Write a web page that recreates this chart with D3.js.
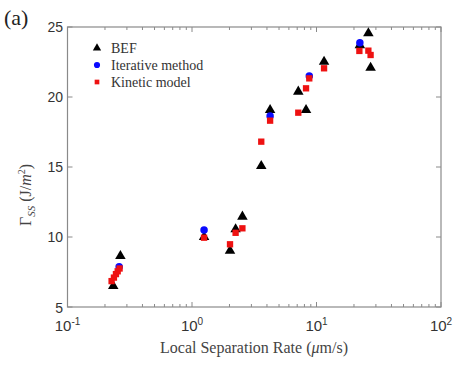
<!DOCTYPE html>
<html>
<head>
<meta charset="utf-8">
<script src="https://cdn.jsdelivr.net/npm/d3@7"></script>
<style>
html,body{margin:0;padding:0;background:#fff;}
svg{display:block;}
</style>
</head>
<body>
<svg id="chart" width="458" height="365"></svg>
<script>
// Data (x: local separation rate in um/s, y: Gamma_SS in J/m^2)
const befX = [0.233, 0.266, 1.25, 2.02, 2.24, 2.54, 3.6, 4.24, 7.14, 8.24, 11.5, 22.3, 26.1, 27.2];
const befY = [6.5, 8.64, 10.0, 9.02, 10.55, 11.45, 15.07, 19.07, 20.38, 19.07, 22.52, 23.7, 24.55, 22.09];
const iterX = [0.26, 1.25, 4.24, 8.75, 22.3];
const iterY = [7.88, 10.5, 18.64, 21.5, 23.88];
const kinX = [0.226, 0.236, 0.245, 0.253, 0.262, 1.25, 2.02, 2.24, 2.54, 3.6, 4.24, 7.14, 8.24, 8.75, 11.5, 22.1, 26.1, 27.2];
const kinY = [6.85, 7.1, 7.35, 7.55, 7.75, 9.95, 9.48, 10.3, 10.62, 16.81, 18.31, 18.88, 20.62, 21.33, 22.05, 23.29, 23.31, 23.0];
const yTicks = [5, 10, 15, 20, 25];
const xTickExps = [-1, 0, 1, 2];
const legendLabels = ["BEF", "Iterative method", "Kinetic model"];

const svg = d3.select("#chart");
const L = 67.5, R = 441, T = 27, B = 307;
const x = d3.scaleLog().domain([0.1, 100]).range([L, R]);
const y = d3.scaleLinear().domain([5, 25]).range([B, T]);
const axisColor = "#8a8a8a";

// frame
svg.append("rect").attr("x", L).attr("y", T).attr("width", R - L).attr("height", B - T)
  .attr("fill", "none").attr("stroke", axisColor).attr("stroke-width", 1.2);

// minor/major x ticks (inward, bottom and top)
const xt = [];
for (let e = -1; e < 2; e++) for (let m = 1; m < 10; m++) xt.push(m * Math.pow(10, e));
xt.push(100);
xt.forEach(v => {
  const major = Math.abs(Math.log10(v) - Math.round(Math.log10(v))) < 1e-9;
  const len = major ? 5 : 3;
  svg.append("line").attr("x1", x(v)).attr("x2", x(v)).attr("y1", B).attr("y2", B - len)
    .attr("stroke", axisColor).attr("stroke-width", 1);
  svg.append("line").attr("x1", x(v)).attr("x2", x(v)).attr("y1", T).attr("y2", T + len)
    .attr("stroke", axisColor).attr("stroke-width", 1);
});
yTicks.forEach(v => {
  svg.append("line").attr("x1", L).attr("x2", L + 5).attr("y1", y(v)).attr("y2", y(v))
    .attr("stroke", axisColor);
  svg.append("line").attr("x1", R).attr("x2", R - 5).attr("y1", y(v)).attr("y2", y(v))
    .attr("stroke", axisColor);
  svg.append("text").attr("x", 63).attr("y", y(v) + (v === 5 ? 1 : 0)).attr("dy", "0.34em")
    .attr("text-anchor", "end").attr("font-family", "Liberation Sans, Arial, sans-serif")
    .attr("font-size", 14).attr("fill", "#333").text(v);
});
xTickExps.forEach(e => {
  const t = svg.append("text").attr("x", x(Math.pow(10, e))).attr("y", 331)
    .attr("text-anchor", "middle").attr("font-family", "Liberation Sans, Arial, sans-serif")
    .attr("font-size", 15).attr("fill", "#333");
  t.append("tspan").text("10");
  t.append("tspan").attr("dy", -6).attr("font-size", 10).text(e);
});

// axis titles
svg.append("text").attr("x", 254).attr("y", 353).attr("text-anchor", "middle")
  .attr("font-family", "Liberation Serif, Times New Roman, serif").attr("font-size", 16)
  .attr("fill", "#444")
  .html('Local Separation Rate (<tspan font-style="italic">μ</tspan>m/s)');
const yt = svg.append("text").attr("transform", "translate(31,195) rotate(-90)")
  .attr("text-anchor", "middle").attr("font-family", "Liberation Serif, Times New Roman, serif")
  .attr("font-size", 16).attr("fill", "#444");
yt.append("tspan").text("Γ");
yt.append("tspan").attr("font-size", 11).attr("font-style", "italic").attr("dy", 4).text("SS");
yt.append("tspan").attr("dy", -4).text(" (J/");
yt.append("tspan").attr("font-style", "italic").text("m");
yt.append("tspan").attr("font-size", 10).attr("dy", -6).text("2");
yt.append("tspan").attr("dy", 6).text(")");

svg.append("text").attr("x", 4).attr("y", 25).attr("font-family", "Liberation Serif, Times New Roman, serif")
  .attr("font-size", 22).attr("fill", "#222").text("(a)");

// markers
const tri = d3.symbol().type(d3.symbolTriangle).size(48);
const circ = d3.symbol().type(d3.symbolCircle).size(44);
const sq = d3.symbol().type(d3.symbolSquare).size(40);

svg.append("g").selectAll("path").data(befX.map((v, i) => [v, befY[i]])).join("path")
  .attr("d", tri).attr("transform", d => `translate(${x(d[0])},${y(d[1])})`).attr("fill", "#000");
svg.append("g").selectAll("path").data(iterX.map((v, i) => [v, iterY[i]])).join("path")
  .attr("d", circ).attr("transform", d => `translate(${x(d[0])},${y(d[1])})`).attr("fill", "#0a0aff");
svg.append("g").selectAll("path").data(kinX.map((v, i) => [v, kinY[i]])).join("path")
  .attr("d", sq).attr("transform", d => `translate(${x(d[0])},${y(d[1])})`).attr("fill", "#ee1111");

// legend
const legSym = [d3.symbol().type(d3.symbolTriangle).size(30), d3.symbol().type(d3.symbolCircle).size(30), d3.symbol().type(d3.symbolSquare).size(22)];
const legCol = ["#000", "#0a0aff", "#ee1111"];
legendLabels.forEach((lab, i) => {
  const yy = 48 + i * 17;
  svg.append("path").attr("d", legSym[i]).attr("transform", `translate(97,${yy})`).attr("fill", legCol[i]);
  svg.append("text").attr("x", 111).attr("y", yy).attr("dy", "0.35em")
    .attr("font-family", "Liberation Serif, Times New Roman, serif").attr("font-size", 14)
    .attr("fill", "#333").text(lab);
});
</script>
</body>
</html>
